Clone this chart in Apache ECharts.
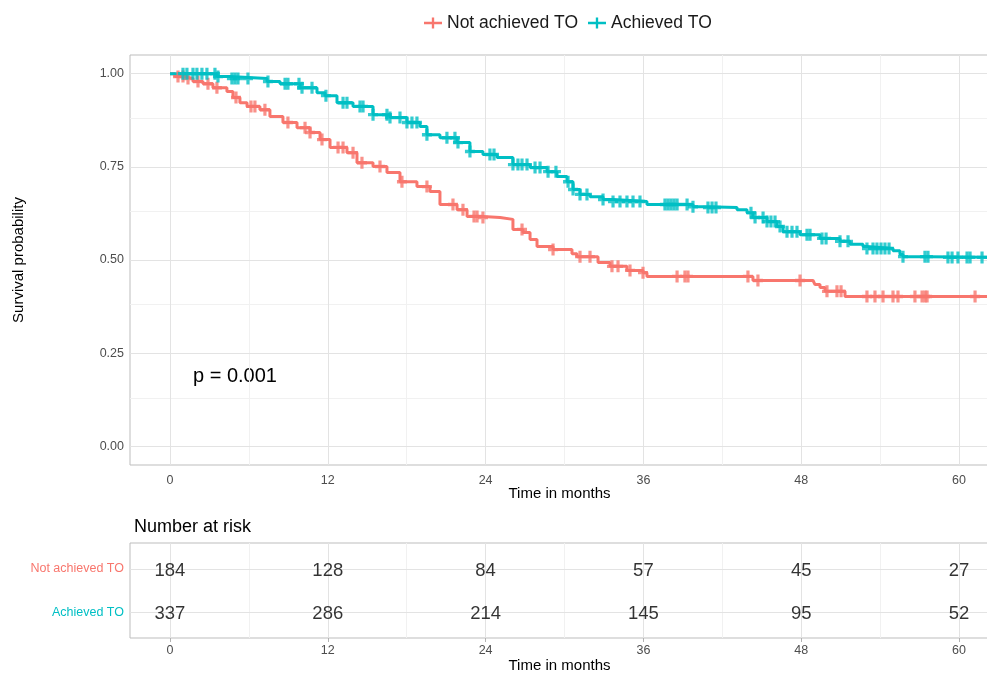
<!DOCTYPE html>
<html>
<head>
<meta charset="utf-8">
<script src="https://cdn.jsdelivr.net/npm/echarts@6/dist/echarts.min.js"></script>
<style>
  html, body { margin: 0; padding: 0; background: #fff; }
  #chart { width: 987px; height: 677px; }
</style>
</head>
<body>
<div id="chart"></div>
<script>
// Kaplan-Meier steps (time in months, survival after the drop)
const notAchievedTimes = [0, 0.38, 1.14, 1.75, 2.51, 3.27, 4.33, 4.79, 5.32, 5.86, 6.84, 7.60, 8.59, 9.66, 10.65, 11.41, 12.17, 13.46, 14.22, 15.44, 16.50, 17.49, 18.78, 19.77, 20.53, 21.83, 22.59, 23.80, 25.10, 26.08, 26.84, 27.38, 27.91, 29.13, 30.57, 30.95, 32.55, 33.46, 34.75, 35.97, 36.27, 44.33, 48.90, 49.05, 49.43, 49.81, 51.33];
const notAchievedSurv = [1, 0.992, 0.987, 0.979, 0.973, 0.962, 0.952, 0.936, 0.922, 0.912, 0.903, 0.885, 0.869, 0.855, 0.842, 0.823, 0.802, 0.788, 0.761, 0.751, 0.735, 0.710, 0.697, 0.684, 0.649, 0.635, 0.617, 0.614, 0.609, 0.582, 0.574, 0.555, 0.536, 0.528, 0.517, 0.509, 0.493, 0.483, 0.472, 0.466, 0.456, 0.445, 0.440, 0.434, 0.426, 0.416, 0.402];
const notAchievedCensor = [0.61, 0.99, 1.37, 2.13, 2.89, 3.57, 5.02, 6.16, 6.46, 7.22, 8.97, 10.27, 10.65, 11.56, 12.78, 13.16, 13.92, 14.60, 15.97, 17.64, 19.54, 21.52, 22.28, 23.12, 23.35, 23.80, 26.77, 29.13, 31.18, 31.94, 33.61, 34.07, 34.98, 35.97, 38.56, 39.16, 39.39, 43.95, 44.71, 47.91, 49.96, 50.72, 51.03, 53.00, 53.61, 54.22, 54.98, 55.36, 56.65, 57.19, 57.41, 57.57, 61.22];

const achievedTimes = [0, 3.57, 4.56, 7.38, 8.37, 9.89, 11.18, 11.79, 12.70, 13.92, 15.44, 16.73, 18.02, 19.01, 19.54, 20.53, 21.83, 22.81, 23.80, 24.87, 26.08, 27.38, 28.67, 29.43, 30.19, 30.65, 31.18, 31.94, 32.93, 33.69, 36.27, 39.77, 40.84, 43.12, 43.88, 44.33, 45.40, 46.16, 46.62, 47.91, 49.43, 50.95, 51.71, 52.70, 53.00, 54.98, 55.51, 55.74, 57.79];
const achievedSurv = [1, 0.992, 0.987, 0.979, 0.973, 0.962, 0.949, 0.941, 0.922, 0.912, 0.890, 0.882, 0.869, 0.858, 0.836, 0.828, 0.815, 0.791, 0.783, 0.775, 0.756, 0.748, 0.737, 0.724, 0.710, 0.689, 0.676, 0.670, 0.662, 0.657, 0.649, 0.643, 0.641, 0.635, 0.627, 0.614, 0.603, 0.590, 0.576, 0.568, 0.558, 0.550, 0.542, 0.536, 0.531, 0.525, 0.515, 0.509, 0.507];
const achievedCensor = [0.99, 1.29, 1.75, 2.05, 2.43, 2.81, 3.42, 3.65, 4.71, 4.94, 5.17, 5.93, 7.45, 8.75, 8.97, 9.81, 10.04, 10.80, 11.86, 13.16, 13.46, 14.45, 14.68, 15.44, 16.50, 16.73, 17.49, 18.02, 18.40, 18.78, 19.54, 21.06, 21.67, 21.90, 22.81, 24.33, 24.64, 26.08, 26.46, 26.77, 27.15, 27.76, 28.14, 28.75, 29.35, 30.27, 30.65, 31.18, 31.71, 32.93, 33.69, 34.22, 34.75, 35.21, 35.74, 37.64, 37.87, 38.10, 38.33, 38.56, 39.32, 39.77, 40.91, 41.22, 41.52, 44.18, 44.49, 45.10, 45.40, 45.70, 46.01, 46.39, 46.92, 47.30, 47.68, 48.44, 48.67, 49.58, 49.89, 50.95, 51.56, 53.00, 53.46, 53.76, 54.07, 54.37, 54.68, 55.74, 57.41, 57.64, 59.16, 59.47, 59.92, 60.61, 60.84, 61.75];

// Number at risk
const riskTimes = [0, 12, 24, 36, 48, 60];
const notAchievedRisk = [184, 128, 84, 57, 45, 27];
const achievedRisk = [337, 286, 214, 145, 95, 52];

// ticks
const xTicks = [0, 12, 24, 36, 48, 60];
const xMinor = [6, 18, 30, 42, 54];
const yTicks = [0, 0.25, 0.5, 0.75, 1];
const yMinor = [0.125, 0.375, 0.625, 0.875];

const RED = '#F8766D';
const TEAL = '#00BFC4';
const FONT = '"Liberation Sans", Arial, sans-serif';
const X_MIN = -3.04, X_MAX = 62.28;
const PLUS = 'path://M3.4,0 H6.6 V10 H3.4 Z M0,3.6 H10 V6.4 H0 Z';

function survAt(times, surv, t) {
    let s = surv[0];
    for (let i = 0; i < times.length; i++) {
        if (times[i] <= t) s = surv[i];
    }
    return s;
}

function stepData(times, surv) {
    const d = times.map((t, i) => [t, surv[i]]);
    d.push([X_MAX + 1, surv[surv.length - 1]]);
    return d;
}

const majorStyle = { color: '#e3e3e3', width: 1, type: 'solid' };
const minorStyle = { color: '#f1f1f1', width: 1, type: 'solid' };

function gridLines(xs, ys, style) {
    return [
        ...xs.map(v => ({ xAxis: v, lineStyle: style })),
        ...ys.map(v => ({ yAxis: v, lineStyle: style }))
    ];
}

const chart = echarts.init(document.getElementById('chart'));

const tickLabel = { color: '#4d4d4d', fontSize: 12.5, fontFamily: FONT };
const riskLabel = {
    show: true, position: 'inside', offset: [0, 2],
    formatter: p => p.value[2], fontSize: 18.5, color: '#000', fontFamily: FONT
};

chart.setOption({
    animation: false,
    textStyle: { fontFamily: FONT },
    title: {
        text: 'Number at risk',
        left: 129,
        top: 513,
        textStyle: { fontSize: 18, fontWeight: 'normal', color: '#000', fontFamily: FONT }
    },
    legend: {
        top: 9,
        left: 419,
        itemWidth: 18,
        itemHeight: 12,
        itemGap: 10,
        icon: 'path://M0,4.6 H20 V7.4 H0 Z M8.7,0 H11.3 V12 H8.7 Z',
        textStyle: { fontSize: 17.5, color: '#1a1a1a', fontFamily: FONT },
        data: ['Not achieved TO', 'Achieved TO']
    },
    graphic: [{
        type: 'text',
        left: 193,
        top: 366,
        style: { text: 'p = 0.001', fontSize: 20, fill: '#000', fontFamily: FONT }
    }],
    grid: [
        { left: 130, top: 55, width: 859, height: 410, show: true, borderColor: '#bdbdbd', borderWidth: 1, outerBoundsMode: 'none' },
        { left: 130, top: 543, width: 859, height: 95, show: true, borderColor: '#bdbdbd', borderWidth: 1, outerBoundsMode: 'none' }
    ],
    xAxis: [
        {
            gridIndex: 0, type: 'value', min: X_MIN, max: X_MAX,
            name: 'Time in months', nameLocation: 'middle', nameGap: 21, nameMoveOverlap: false,
            nameTextStyle: { fontSize: 15, color: '#000', fontFamily: FONT },
            axisLine: { show: false },
            axisTick: { show: true, length: 4, lineStyle: { color: '#b3b3b3' }, customValues: xTicks },
            axisLabel: Object.assign({ margin: 9, customValues: xTicks, formatter: v => String(v) }, tickLabel),
            splitLine: { show: false }
        },
        {
            gridIndex: 1, type: 'value', min: X_MIN, max: X_MAX,
            name: 'Time in months', nameLocation: 'middle', nameGap: 20,
            nameTextStyle: { fontSize: 15, color: '#000', fontFamily: FONT },
            axisLine: { show: false },
            axisTick: { show: true, length: 4, lineStyle: { color: '#b3b3b3' }, customValues: xTicks },
            axisLabel: Object.assign({ margin: 6, customValues: xTicks, formatter: v => String(v) }, tickLabel),
            splitLine: { show: false }
        }
    ],
    yAxis: [
        {
            gridIndex: 0, type: 'value', min: -0.05, max: 1.05,
            name: 'Survival probability', nameLocation: 'middle', nameGap: 104, nameRotate: 90,
            nameTextStyle: { fontSize: 15, color: '#000', fontFamily: FONT },
            axisLine: { show: false },
            axisTick: { show: true, length: 4, lineStyle: { color: '#b3b3b3' }, customValues: yTicks },
            axisLabel: Object.assign({ margin: 6, customValues: yTicks, formatter: v => v.toFixed(2) }, tickLabel),
            splitLine: { show: false }
        },
        {
            gridIndex: 1, type: 'value', min: 0.4, max: 2.6,
            axisLine: { show: false },
            axisTick: { show: true, length: 4, lineStyle: { color: '#b3b3b3' }, customValues: [1, 2] },
            axisLabel: {
                margin: 6,
                customValues: [1, 2],
                formatter: v => v === 2 ? '{a|Not achieved TO}' : '{b|Achieved TO}',
                rich: {
                    a: { color: RED, fontSize: 12.5, fontFamily: FONT },
                    b: { color: TEAL, fontSize: 12.5, fontFamily: FONT }
                }
            },
            splitLine: { show: false }
        }
    ],
    series: [
        {
            type: 'line', xAxisIndex: 0, yAxisIndex: 0, z: 1, silent: true,
            data: [], symbol: 'none',
            markLine: {
                z: 1, silent: true, symbol: ['none', 'none'], label: { show: false },
                animation: false,
                data: gridLines(xMinor, yMinor, minorStyle)
                    .concat(gridLines(xTicks, yTicks, majorStyle))
            }
        },
        {
            type: 'line', xAxisIndex: 1, yAxisIndex: 1, z: 1, silent: true,
            data: [], symbol: 'none',
            markLine: {
                z: 1, silent: true, symbol: ['none', 'none'], label: { show: false },
                animation: false,
                data: gridLines(xMinor, [], minorStyle)
                    .concat(gridLines(xTicks, [1, 2], majorStyle))
            }
        },
        {
            name: 'Not achieved TO', type: 'line', step: 'end', z: 3,
            xAxisIndex: 0, yAxisIndex: 0, color: RED,
            showSymbol: false, symbol: 'none', clip: true,
            lineStyle: { width: 3, color: RED },
            data: stepData(notAchievedTimes, notAchievedSurv)
        },
        {
            name: 'Achieved TO', type: 'line', step: 'end', z: 3,
            xAxisIndex: 0, yAxisIndex: 0, color: TEAL,
            showSymbol: false, symbol: 'none', clip: true,
            lineStyle: { width: 3, color: TEAL },
            data: stepData(achievedTimes, achievedSurv)
        },
        {
            name: 'Not achieved TO', type: 'scatter', z: 4,
            xAxisIndex: 0, yAxisIndex: 0, silent: true,
            symbol: PLUS, symbolSize: [10, 12],
            itemStyle: { color: RED },
            data: notAchievedCensor.map(t => [t, survAt(notAchievedTimes, notAchievedSurv, t)])
        },
        {
            name: 'Achieved TO', type: 'scatter', z: 4,
            xAxisIndex: 0, yAxisIndex: 0, silent: true,
            symbol: PLUS, symbolSize: [10, 12],
            itemStyle: { color: TEAL },
            data: achievedCensor.map(t => [t, survAt(achievedTimes, achievedSurv, t)])
        },
        {
            type: 'scatter', xAxisIndex: 1, yAxisIndex: 1, z: 4, silent: true,
            symbolSize: 1, itemStyle: { color: 'transparent' },
            label: riskLabel,
            data: riskTimes.map((t, i) => [t, 2, notAchievedRisk[i]])
        },
        {
            type: 'scatter', xAxisIndex: 1, yAxisIndex: 1, z: 4, silent: true,
            symbolSize: 1, itemStyle: { color: 'transparent' },
            label: riskLabel,
            data: riskTimes.map((t, i) => [t, 1, achievedRisk[i]])
        }
    ]
});
</script>
</body>
</html>
